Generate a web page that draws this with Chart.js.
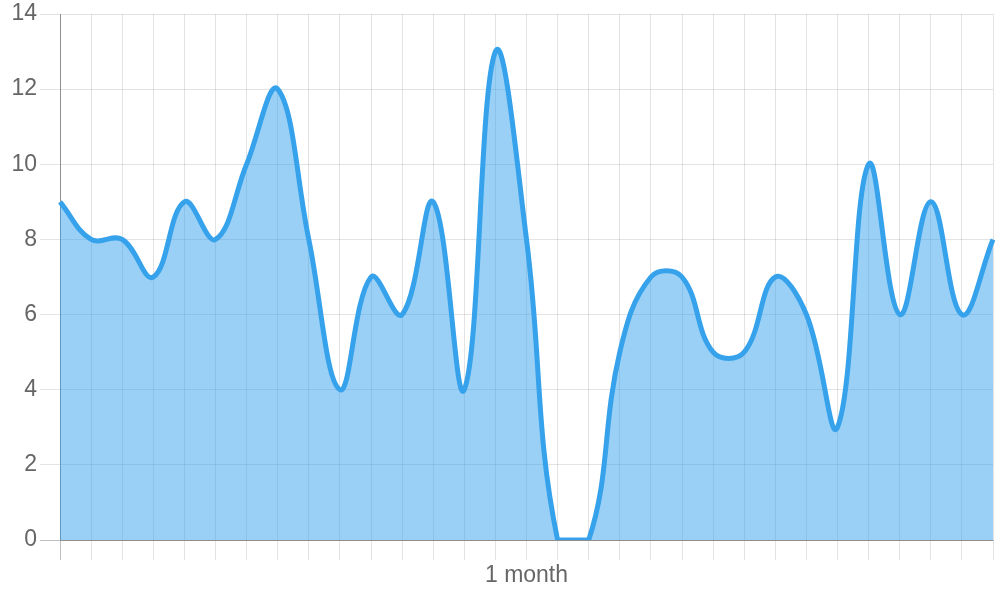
<!DOCTYPE html>
<html>
<head>
<meta charset="utf-8">
<script src="https://cdn.jsdelivr.net/npm/chart.js@4/dist/chart.umd.min.js"></script>
<style>
  html, body { margin: 0; padding: 0; background: #fff; }
  #wrap { width: 1000px; height: 600px; }
</style>
</head>
<body>
<div id="wrap"><canvas id="lineChart"></canvas></div>
<script>
// x labels: only one tick is labelled
const labels = ["", "", "", "", "", "", "", "", "", "", "", "", "", "", "",
  "1 month", "", "", "", "", "", "", "", "", "", "", "", "", "", "", ""];
const values = [9, 8, 8, 7, 9, 8, 10, 12, 8, 4, 7, 6, 9, 4, 13,
  8, 0, 0, 5, 7, 7, 5, 5, 7, 6, 3, 10, 6, 9, 6, 8];
const yTicks = { min: 0, max: 14, step: 2 };

const gridColor = ctx => ctx.index === 0 ? "rgba(0,0,0,0.25)" : "rgba(0,0,0,0.11)";
const tickFont = { size: 23, family: "'Liberation Sans', Arial, sans-serif" };

const ctx = document.getElementById("lineChart").getContext("2d");
new Chart(ctx, {
  type: "line",
  data: {
    labels: labels,
    datasets: [{
      data: values,
      borderColor: "rgb(54,162,235)",
      backgroundColor: "rgba(54,162,235,0.5)",
      borderWidth: 5,
      fill: "origin",
      tension: 0.4,
      pointRadius: 0
    }]
  },
  options: {
    responsive: true,
    maintainAspectRatio: false,
    animation: false,
    layout: { padding: { top: 0, right: 7, left: 0, bottom: 0 } },
    plugins: { legend: { display: false }, tooltip: { enabled: false } },
    scales: {
      x: {
        grid: { color: gridColor, tickLength: 20 },
        border: { color: "rgba(0,0,0,0.25)" },
        ticks: {
          color: "#666",
          font: tickFont,
          autoSkip: false,
          maxRotation: 0,
          padding: 2
        },
        afterFit: s => { s.height = 60; }
      },
      y: {
        min: yTicks.min,
        max: yTicks.max,
        grid: { color: gridColor, tickLength: 20 },
        border: { color: "rgba(0,0,0,0.25)" },
        ticks: {
          stepSize: yTicks.step,
          color: "#666",
          font: tickFont,
          padding: 3
        },
        afterFit: s => { s.width = 60; s.paddingTop = 14; s.paddingBottom = 0; }
      }
    }
  }
});
</script>
</body>
</html>
